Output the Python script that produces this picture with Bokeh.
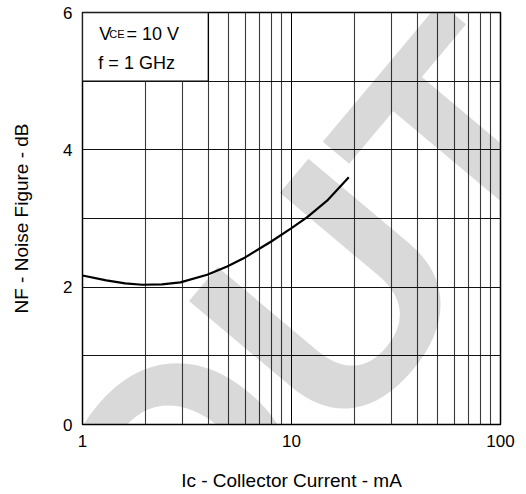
from bokeh.plotting import figure
from bokeh.models import FixedTicker, Label, Range1d, NumeralTickFormatter
from bokeh.embed import file_html
from bokeh.resources import INLINE

# --- data ---
ic_ma = [1.0, 1.3, 1.6, 1.93, 2.4, 2.94, 3.95, 4.92, 5.9, 6.98, 8.0, 10.0, 11.9, 14.8, 18.8]
nf_db = [2.17, 2.10, 2.055, 2.035, 2.04, 2.07, 2.18, 2.30, 2.42, 2.555, 2.665, 2.86, 3.02, 3.26, 3.60]

x_ticks = [1, 10, 100]
x_minor = [2, 3, 4, 5, 6, 7, 8, 9, 20, 30, 40, 50, 60, 70, 80, 90]
y_ticks = [0, 2, 4, 6]
y_grid = [0, 1, 2, 3, 4, 5, 6]

FONT = "Liberation Sans"

p = figure(width=526, height=494, x_axis_type="log",
           x_range=Range1d(1, 100), y_range=Range1d(0, 6),
           output_backend="svg", toolbar_location=None, title=None,
           min_border_left=82, min_border_right=26,
           min_border_top=12, min_border_bottom=70)

p.background_fill_color = "white"
p.border_fill_color = "white"
p.outline_line_color = "black"
p.outline_line_width = 1.5

# grids
p.xgrid.ticker = FixedTicker(ticks=x_ticks, minor_ticks=x_minor)
p.xgrid.grid_line_color = "#000000"
p.xgrid.grid_line_width = 1
p.xgrid.minor_grid_line_color = "#3a3a3a"
p.xgrid.minor_grid_line_width = 1.1
p.ygrid.ticker = FixedTicker(ticks=y_grid)
p.ygrid.grid_line_color = "#111111"
p.ygrid.grid_line_width = 1

# axes
p.xaxis.ticker = FixedTicker(ticks=x_ticks)
p.xaxis.formatter = NumeralTickFormatter(format="0")
p.xaxis.major_label_overrides = {1: "1", 10: "10", 100: "100"}
p.yaxis.ticker = FixedTicker(ticks=y_ticks)
for ax in (p.xaxis, p.yaxis):
    ax.axis_line_color = None
    ax.major_tick_line_color = None
    ax.minor_tick_line_color = None
    ax.major_tick_out = 0
    ax.major_tick_in = 0
    ax.major_label_text_font = FONT
    ax.major_label_text_font_size = "17px"
    ax.major_label_text_color = "black"
    ax.axis_label_text_font = FONT
    ax.axis_label_text_font_size = "19px"
    ax.axis_label_text_font_style = "normal"
    ax.axis_label_text_color = "black"
p.xaxis.major_label_standoff = 10
p.yaxis.major_label_standoff = 10
p.xaxis.axis_label = "Ic - Collector Current - mA"
p.yaxis.axis_label = "NF - Noise Figure - dB"
p.xaxis.axis_label_standoff = 20
p.yaxis.axis_label_standoff = 28

# condition box
box_x = [1, 4]
box_y = [5, 6]
p.quad(left=[box_x[0]], right=[box_x[1]], bottom=[box_y[0]], top=[box_y[1]],
       fill_color="white", line_color="black", line_width=1.3)

# curve
p.line(ic_ma, nf_db, line_color="black", line_width=2.2)

def lab(x, y, t, size, **kw):
    p.add_layout(Label(x=x, y=y, text=t, text_font=FONT, text_font_size=size,
                       text_color="black", text_baseline="alphabetic", **kw))

# box texts
lab(1.203, 5.68, "V", "18px")
lab(1.342, 5.68, "CE", "11px")
lab(1.625, 5.68, "= 10 V", "18px")
lab(1.191, 5.27, "f = 1 GHz", "18px")

# watermark (translucent black on top == light grey under the grid)
p.add_layout(Label(x=1.255, y=-2.074, text="OUT", angle=50, angle_units="deg",
                   text_font=FONT, text_font_style="bold", text_font_size="309px",
                   text_color="black", text_alpha=0.15, text_align="left",
                   text_baseline="alphabetic", level="overlay"))

open("out.html", "w").write(file_html(p, INLINE))
